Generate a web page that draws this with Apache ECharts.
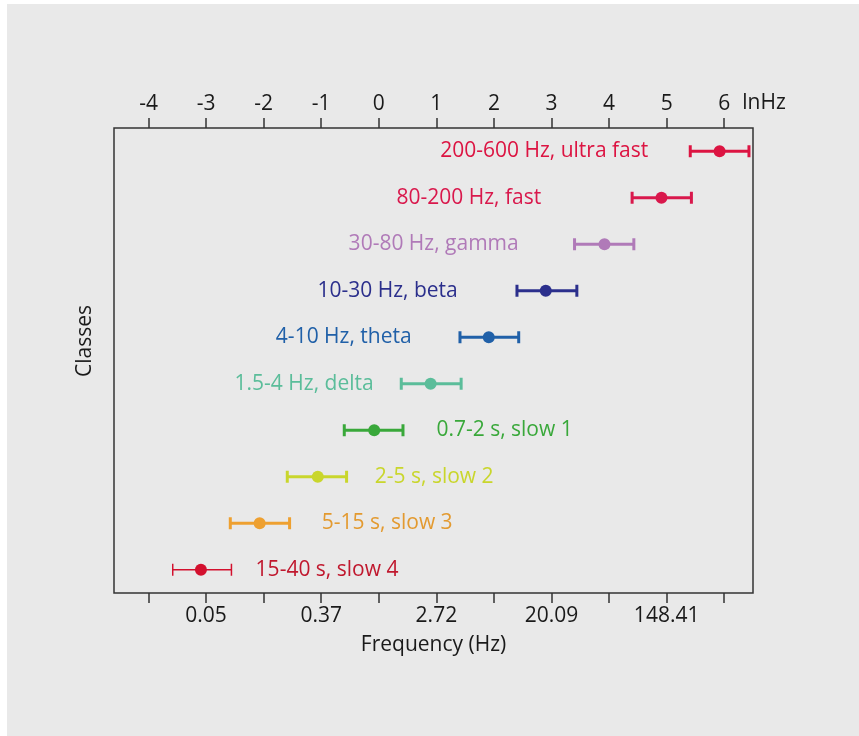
<!DOCTYPE html>
<html>
<head>
<meta charset="utf-8">
<script src="https://cdn.jsdelivr.net/npm/echarts@6/dist/echarts.min.js"></script>
<style>
html,body{margin:0;padding:0;background:#fff;}
#bg{position:absolute;left:7px;top:4px;width:852px;height:732px;background:#e9e9e9;}
#chart{position:absolute;left:0;top:0;width:859px;height:736px;}
</style>
</head>
<body>
<div id="bg"></div>
<div id="chart"></div>
<script>
// Classes, top to bottom
const classes = ["200-600 Hz, ultra fast","80-200 Hz, fast","30-80 Hz, gamma","10-30 Hz, beta","4-10 Hz, theta","1.5-4 Hz, delta","0.7-2 s, slow 1","2-5 s, slow 2","5-15 s, slow 3","15-40 s, slow 4"];
// ln(Hz) centre and error-bar ends
const centers = [5.92, 4.91, 3.92, 2.90, 1.91, 0.90, -0.08, -1.06, -2.07, -3.09];
const lows    = [5.41, 4.40, 3.40, 2.40, 1.41, 0.39, -0.60, -1.59, -2.58, -3.58];
const highs   = [6.43, 5.43, 4.43, 3.44, 2.43, 1.43, 0.42, -0.56, -1.55, -2.56];
// where the class label sits (ln Hz) and which side of it the text is
const labelAt   = [4.68, 2.82, 2.43, 1.37, 0.57, -0.09, 1.0, -0.07, -0.99, -2.14];
const labelSide = ["right","right","right","right","right","right","left","left","left","left"];
const colors = ["#dc1442","#d9184c","#b07ab8","#2b2f8c","#2060a8","#5bbd9a","#39a83a","#c9d62c","#eea030","#d3102e"];
const textColors = ["#dc1442","#d9184c","#b07ab8","#2b2f8c","#2060a8","#5bbd9a","#39a83a","#c9d62c","#e39a30","#c0182e"];
const lnTicks = [-4,-3,-2,-1,0,1,2,3,4,5,6];
const hzLabelTicks = [-3,-1,1,3,5];

const FONT = "'Open Sans', 'Noto Sans', sans-serif";
const FS = 21;
const data = classes.map((c,i)=>[lows[i], centers[i], highs[i], i]);

const chart = echarts.init(document.getElementById('chart'));
chart.setOption({
  backgroundColor: 'transparent',
  animation: false,
  grid: {left:114, top:128, width:639, height:465, show:true, borderColor:'#333', borderWidth:1.5, backgroundColor:'transparent'},
  xAxis: [
    {type:'value', position:'top', min:-4.6, max:6.5,
     axisLine:{show:false}, splitLine:{show:false},
     axisTick:{show:true, customValues: lnTicks, length:10, lineStyle:{color:'#333', width:1.5}},
     axisLabel:{customValues: lnTicks, color:'#1a1a1a', fontSize:FS, fontFamily:FONT, margin:13, formatter: v=>String(v)}},
    {type:'value', position:'bottom', min:-4.6, max:6.5,
     axisLine:{show:false}, splitLine:{show:false},
     axisTick:{show:true, customValues: lnTicks, length:10, lineStyle:{color:'#333', width:1.5}},
     axisLabel:{customValues: hzLabelTicks, color:'#1a1a1a', fontSize:FS, fontFamily:FONT, margin:13, formatter: v=>Math.exp(v).toFixed(2)},
     name:'Frequency (Hz)', nameLocation:'middle', nameGap:42,
     nameTextStyle:{color:'#1a1a1a', fontSize:FS, fontFamily:FONT}}
  ],
  yAxis: {type:'category', data: classes, inverse:true,
    axisLine:{show:false}, axisTick:{show:false}, axisLabel:{show:false}, splitLine:{show:false}},
  graphic: [
    {type:'text', x:764, y:103, style:{text:'lnHz', fill:'#1a1a1a', font:FS+'px '+FONT, align:'center', verticalAlign:'middle'}},
    {type:'text', x:85, y:341, rotation:Math.PI/2, style:{text:'Classes', fill:'#1a1a1a', font:FS+'px '+FONT, align:'center', verticalAlign:'middle'}}
  ],
  series: [{
    type:'custom', xAxisIndex:0, yAxisIndex:0, data:data,
    encode:{x:[0,1,2], y:3},
    renderItem:function(params, api){
      const i = api.value(3);
      const lo = api.coord([api.value(0), i]);
      const c = api.coord([api.value(1), i]);
      const hi = api.coord([api.value(2), i]);
      const col = colors[i];
      const w = i === 9 ? 1.5 : 3;
      const cap = 6;
      const t = api.coord([labelAt[i], i]);
      return {type:'group', children:[
        {type:'line', shape:{x1:lo[0], y1:lo[1], x2:hi[0], y2:hi[1]}, style:{stroke:col, lineWidth:w}},
        {type:'line', shape:{x1:lo[0], y1:lo[1]-cap, x2:lo[0], y2:lo[1]+cap}, style:{stroke:col, lineWidth:w}},
        {type:'line', shape:{x1:hi[0], y1:hi[1]-cap, x2:hi[0], y2:hi[1]+cap}, style:{stroke:col, lineWidth:w}},
        {type:'circle', shape:{cx:c[0], cy:c[1], r:6}, style:{fill:col}},
        {type:'text', x:t[0], y:t[1], style:{text:classes[i], fill:textColors[i], font:FS+'px '+FONT, align:labelSide[i], verticalAlign:'middle'}}
      ]};
    }
  }]
});
</script>
</body>
</html>
